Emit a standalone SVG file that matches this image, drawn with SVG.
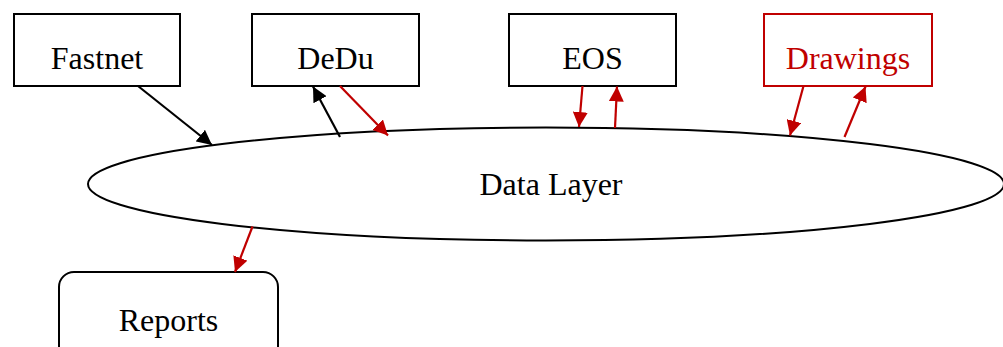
<svg xmlns="http://www.w3.org/2000/svg" width="1003" height="347" viewBox="0 0 1003 347">
<defs>
<style>
.box{fill:#fff;stroke:#000;stroke-width:2}
.rbox{fill:#fff;stroke:#C00000;stroke-width:2}
.t{font-family:"Liberation Serif","Times New Roman",serif;font-size:32px;fill:#000;text-anchor:middle}
.rt{fill:#C00000}
.k{stroke:#000;stroke-width:2.2;fill:none}
.r{stroke:#C00000;stroke-width:2.2;fill:none}
</style>
<marker id="ak" markerUnits="userSpaceOnUse" markerWidth="16" markerHeight="15" refX="15" refY="7.5" orient="auto"><path d="M0,0 L15,7.5 L0,15 z" fill="#000"/></marker>
<marker id="ar" markerUnits="userSpaceOnUse" markerWidth="16" markerHeight="15" refX="15" refY="7.5" orient="auto"><path d="M0,0 L15,7.5 L0,15 z" fill="#C00000"/></marker>
</defs>
<rect width="1003" height="347" fill="#fff"/>
<g id="datalayer">
<ellipse cx="546" cy="184" rx="458" ry="56.5" fill="none" stroke="#000" stroke-width="2"/>
<text class="t" x="551" y="195">Data Layer</text>
</g>
<g id="fastnet"><rect class="box" x="14" y="14" width="166" height="72"/><text class="t" x="97" y="69">Fastnet</text></g>
<g id="dedu"><rect class="box" x="252" y="14" width="167" height="72"/><text class="t" x="335.5" y="69">DeDu</text></g>
<g id="eos"><rect class="box" x="509" y="14" width="167" height="72"/><text class="t" x="592.5" y="69">EOS</text></g>
<g id="drawings"><rect class="rbox" x="764" y="14" width="168" height="72"/><text class="t rt" x="848" y="69">Drawings</text></g>
<g id="reports"><rect class="box" x="59" y="272" width="219" height="100" rx="15"/><text class="t" x="168.5" y="331">Reports</text></g>
<g id="connectors">
<line class="k" x1="138" y1="86" x2="212" y2="145" marker-end="url(#ak)"/>
<line class="k" x1="340" y1="137" x2="313" y2="86.5" marker-end="url(#ak)"/>
<line class="r" x1="340" y1="86" x2="388" y2="135.5" marker-end="url(#ar)"/>
<line class="r" x1="582.5" y1="86" x2="579" y2="127" marker-end="url(#ar)"/>
<line class="r" x1="615" y1="128" x2="617" y2="86.5" marker-end="url(#ar)"/>
<line class="r" x1="803.5" y1="86" x2="790" y2="135.5" marker-end="url(#ar)"/>
<line class="r" x1="844.5" y1="137" x2="865.5" y2="86.5" marker-end="url(#ar)"/>
<line class="r" x1="252.5" y1="226.5" x2="235" y2="272" marker-end="url(#ar)"/>
</g>
</svg>
